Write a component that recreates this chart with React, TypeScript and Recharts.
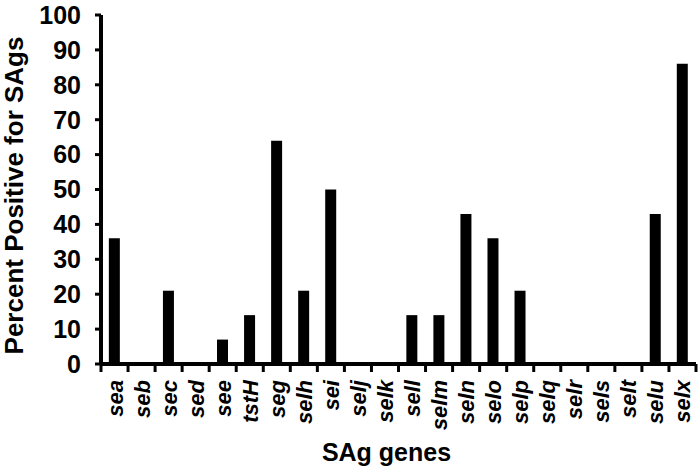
// Bar chart: percent of isolates positive for each superantigen (SAg) gene.

import { BarChart, Bar, XAxis, YAxis, Label } from 'recharts';

const genes = [
  'sea', 'seb', 'sec', 'sed', 'see', 'tstH', 'seg', 'selh', 'sei', 'selj', 'selk',
  'sell', 'selm', 'seln', 'selo', 'selp', 'selq', 'selr', 'sels', 'selt', 'selu', 'selx',
];
const percentPositive = [
  36, 0, 21, 0, 7, 14, 64, 21, 50, 0, 0,
  14, 14, 43, 36, 21, 0, 0, 0, 0, 43, 86,
];
const yTicks = [0, 10, 20, 30, 40, 50, 60, 70, 80, 90, 100];

const data = genes.map((gene, i) => ({ gene, value: percentPositive[i] }));

const FONT = '"Liberation Sans", Arial, sans-serif';

function GeneTick(props: any) {
  const { x, y, payload, index } = props;
  const half = payload.offset ?? 13.5;
  const last = index === genes.length - 1;
  return (
    <g>
      <line x1={x - half} x2={x - half} y1={y} y2={y + 8} stroke="#000" strokeWidth={3} />
      {last && <line x1={x + half} x2={x + half} y1={y} y2={y + 8} stroke="#000" strokeWidth={3} />}
      <text
        x={x + 8}
        y={y + 16}
        transform={`rotate(-90, ${x + 8}, ${y + 16})`}
        textAnchor="end"
        fontFamily={FONT}
        fontSize={22}
        fontWeight="bold"
        fontStyle="italic"
        fill="#000"
      >
        {payload.value}
      </text>
    </g>
  );
}

export default function App() {
  return (
    <div style={{ position: 'absolute', left: 0, top: 0, background: '#fff' }}>
      <BarChart
        width={700}
        height={471}
        data={data}
        margin={{ top: 15, right: 4, left: 0, bottom: 0 }}
        barCategoryGap="29%"
      >
        <XAxis
          dataKey="gene"
          height={107}
          interval={0}
          tickSize={0}
          tickMargin={0}
          tickLine={false}
          axisLine={{ stroke: '#000', strokeWidth: 4 }}
          tick={<GeneTick />}
        >
          <Label
            value="SAg genes"
            position="insideBottom"
            offset={10}
            dx={-12}
            fontFamily={FONT}
            fontSize={25}
            fontWeight="bold"
            fill="#000"
          />
        </XAxis>
        <YAxis
          width={101}
          domain={[0, 100]}
          ticks={yTicks}
          interval={0}
          tickSize={6}
          tickMargin={14}
          tickLine={{ stroke: '#000', strokeWidth: 3 }}
          axisLine={{ stroke: '#000', strokeWidth: 4 }}
          tick={{ fontFamily: FONT, fontSize: 25, fontWeight: 'bold', fill: '#000' }}
        >
          <Label
            value="Percent Positive for SAgs"
            angle={-90}
            position="insideLeft"
            offset={14}
            dy={6}
            fontFamily={FONT}
            fontSize={26}
            fontWeight="bold"
            fill="#000"
            style={{ textAnchor: 'middle' }}
          />
        </YAxis>
        <Bar dataKey="value" fill="#000" isAnimationActive={false} />
      </BarChart>
    </div>
  );
}
